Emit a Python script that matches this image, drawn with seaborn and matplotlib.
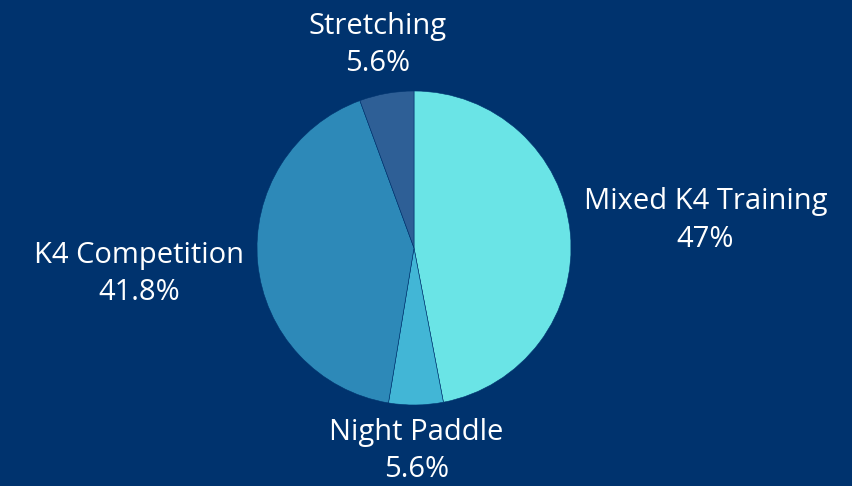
import numpy as np
import matplotlib
matplotlib.use("Agg")
import matplotlib.pyplot as plt
import seaborn as sns

categories = ["Mixed K4 Training", "Night Paddle", "K4 Competition", "Stretching"]
shares = [47.0, 5.6, 41.8, 5.6]
pct_labels = ["47%", "5.6%", "41.8%", "5.6%"]
colors = ["#6AE4E6", "#42B6D6", "#2D89B8", "#2E5F96"]
bg = "#00336E"

sns.set_theme(style="white")
plt.rcParams["font.family"] = ["Open Sans", "DejaVu Sans"]

fig = plt.figure(figsize=(8.52, 4.86), dpi=100, facecolor=bg)
ax = fig.add_axes([0, 0, 1, 1])
ax.set_facecolor(bg)

wedges, _ = ax.pie(shares, colors=sns.color_palette(colors), startangle=90,
                   counterclock=False, radius=1.0,
                   wedgeprops=dict(linewidth=0.4, edgecolor=bg))

r = 157.0
cx, cy = 414.0, 248.0
ax.set_xlim(-cx / r, (852 - cx) / r)
ax.set_ylim(-(486 - cy) / r, cy / r)
ax.set_aspect("equal")
ax.axis("off")

fig.canvas.draw()
renderer = fig.canvas.get_renderer()
inv = ax.transData.inverted()

# put each label box on the slice's mid-angle ray, near edge just past the rim
gap = 1.08
for w, name, pct in zip(wedges, categories, pct_labels):
    ang = np.deg2rad((w.theta1 + w.theta2) / 2)
    t = ax.text(0, 0, f"{name}\n{pct}", ha="center", va="center",
                multialignment="center", color="white", fontsize=21,
                linespacing=1.4)
    bb = t.get_window_extent(renderer)
    p0 = inv.transform((bb.x0, bb.y0))
    p1 = inv.transform((bb.x1, bb.y1))
    hw, hh = (p1[0] - p0[0]) / 2, (p1[1] - p0[1]) / 2
    c, s = abs(np.cos(ang)), abs(np.sin(ang))
    d = min((gap + hw) / c if c > 1e-6 else np.inf,
            (gap + hh) / s if s > 1e-6 else np.inf)
    t.set_position((d * np.cos(ang), d * np.sin(ang)))

fig.savefig("out.png", dpi=100, facecolor=bg)
